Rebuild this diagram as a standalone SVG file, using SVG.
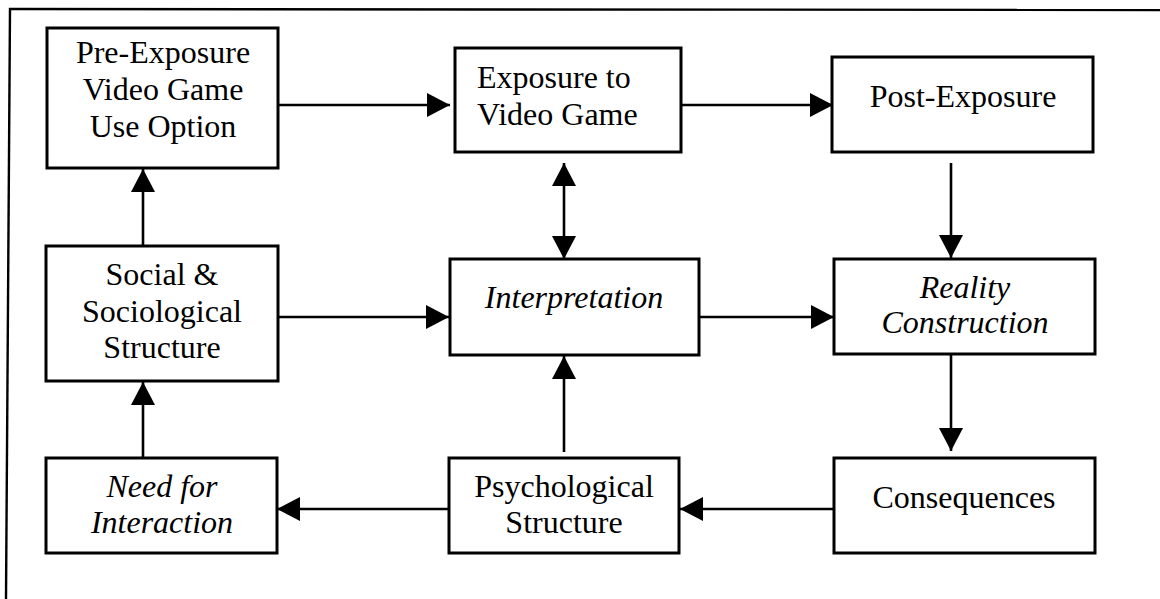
<svg xmlns="http://www.w3.org/2000/svg" width="1160" height="599" viewBox="0 0 1160 599">
<style>
.box{fill:#fff;stroke:#000;stroke-width:3}
.t{font-family:'Liberation Serif', 'DejaVu Serif', serif;font-size:32px;fill:#000;text-anchor:middle}
.i{font-style:italic}
.l{text-anchor:start}
.c{stroke:#000;stroke-width:2.6;fill:none}
</style>
<defs>
<marker id="ah" markerUnits="userSpaceOnUse" markerWidth="24" markerHeight="24" refX="23" refY="12" orient="auto-start-reverse" viewBox="0 0 24 24">
<path d="M0,0 L23,12 L0,24 z" fill="#000"/>
</marker>
</defs>
<rect width="1160" height="599" fill="#fff"/>
<g id="frame">
<line x1="9" y1="9" x2="1160" y2="10" stroke="#000" stroke-width="2.4"/>
<line x1="10" y1="8" x2="6" y2="599" stroke="#000" stroke-width="2.4"/>
</g>
<g id="connectors">
<line class="c" x1="278" y1="105" x2="450" y2="105" marker-end="url(#ah)"/>
<line class="c" x1="681" y1="105" x2="833" y2="105" marker-end="url(#ah)"/>
<line class="c" x1="951" y1="163" x2="951" y2="258" marker-end="url(#ah)"/>
<line class="c" x1="951" y1="354" x2="951" y2="451" marker-end="url(#ah)"/>
<line class="c" x1="834" y1="509" x2="680" y2="509" marker-end="url(#ah)"/>
<line class="c" x1="449" y1="509" x2="277" y2="509" marker-end="url(#ah)"/>
<line class="c" x1="143" y1="458" x2="143" y2="382" marker-end="url(#ah)"/>
<line class="c" x1="143" y1="246" x2="143" y2="169" marker-end="url(#ah)"/>
<line class="c" x1="278" y1="317" x2="449" y2="317" marker-end="url(#ah)"/>
<line class="c" x1="699" y1="317" x2="834" y2="317" marker-end="url(#ah)"/>
<line class="c" x1="564" y1="163" x2="564" y2="259" marker-start="url(#ah)" marker-end="url(#ah)"/>
<line class="c" x1="564" y1="452" x2="564" y2="356" marker-end="url(#ah)"/>
</g>
<g id="pre-exposure">
<rect class="box" x="47" y="28" width="231" height="140"/>
<text class="t" x="163" y="63" font-family="Liberation Serif, serif">Pre-Exposure</text>
<text class="t" x="163" y="100">Video Game</text>
<text class="t" x="163" y="137">Use Option</text>
</g>
<g id="exposure">
<rect class="box" x="455" y="48" width="226" height="104"/>
<text class="t l" x="477" y="88">Exposure to</text>
<text class="t l" x="477" y="125">Video Game</text>
</g>
<g id="post-exposure">
<rect class="box" x="832" y="57" width="261" height="95"/>
<text class="t" x="963" y="107">Post-Exposure</text>
</g>
<g id="social">
<rect class="box" x="46" y="246" width="232" height="135"/>
<text class="t" x="162" y="285">Social &amp;</text>
<text class="t" x="162" y="322">Sociological</text>
<text class="t" x="162" y="358">Structure</text>
</g>
<g id="interpretation">
<rect class="box" x="450" y="259" width="249" height="96"/>
<text class="t i" x="574" y="308">Interpretation</text>
</g>
<g id="reality">
<rect class="box" x="834" y="259" width="261" height="95"/>
<text class="t i" x="965" y="298">Reality</text>
<text class="t i" x="965" y="333">Construction</text>
</g>
<g id="need">
<rect class="box" x="46" y="458" width="231" height="95"/>
<text class="t i" x="162" y="497">Need for</text>
<text class="t i" x="162" y="533">Interaction</text>
</g>
<g id="psychological">
<rect class="box" x="449" y="458" width="230" height="95"/>
<text class="t" x="564" y="497">Psychological</text>
<text class="t" x="564" y="533">Structure</text>
</g>
<g id="consequences">
<rect class="box" x="834" y="458" width="261" height="95"/>
<text class="t" x="964" y="508">Consequences</text>
</g>
</svg>
